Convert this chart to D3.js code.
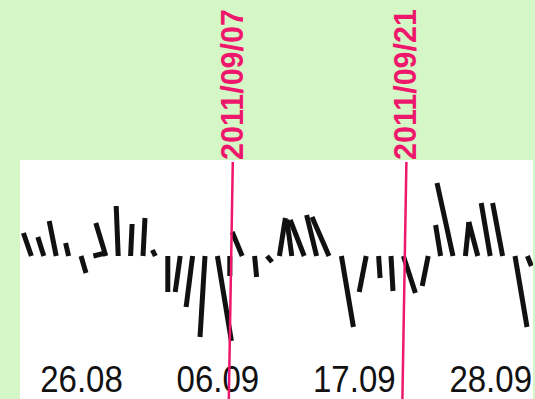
<!DOCTYPE html>
<html>
<head>
<meta charset="utf-8">
<script src="https://cdn.jsdelivr.net/npm/d3@7"></script>
<style>
  html, body { margin: 0; padding: 0; background: #d5f6c7; }
  svg { display: block; }
</style>
</head>
<body>
<script>
// ---- data ----
const days = ["2011-08-22","2011-08-23","2011-08-24","2011-08-25","2011-08-26","2011-08-27","2011-08-28","2011-08-29","2011-08-30","2011-08-31",
              "2011-09-01","2011-09-02","2011-09-03","2011-09-04","2011-09-05","2011-09-06","2011-09-07","2011-09-08","2011-09-09","2011-09-10",
              "2011-09-11","2011-09-12","2011-09-13","2011-09-14","2011-09-15","2011-09-16","2011-09-17","2011-09-18","2011-09-19","2011-09-20",
              "2011-09-21","2011-09-22","2011-09-23","2011-09-24","2011-09-25","2011-09-26","2011-09-27","2011-09-28","2011-09-29","2011-09-30","2011-10-01"];
// eastward component (u) and northward component (v)
const uValues = [-1.6,-1.2,-1.4,-0.6, 1.0, 2.4,-2.0,-0.4, 0.3, 0.4,
                 -0.6, 0.0,-1.0,-1.3,-1.0, 2.8, 0.0,-2.0, 0.4, 1.0,
                  1.2,-1.0,-2.8,-2.0,-3.4, 2.4, 0.0,-1.4, 0.3, 0.4,
                  2.4, 0.0,-1.2,-1.0,-3.2, 0.7,-1.8,-1.8,-2.0, 2.4, 0.8];
const vValues = [ 4.6, 3.8, 7.0, 2.6,-3.4, 0.6, 6.6,10.0, 6.4, 7.6,
                  1.2,-7.2,-7.2,-10.2,-16.2,-17.0,-4.0, 4.8,-4.2,-1.2,
                  7.6, 7.3, 7.2, 8.2, 7.8,-14.2, 0.0,-7.2,-4.4,-7.0,
                 -7.4, 0.0,-6.0, 6.2,14.6, 6.8, 6.8,10.6,10.6,-14.2,-2.0];
const tickDates = ["2011-08-26","2011-09-06","2011-09-17","2011-09-28"];
const markerDates = ["2011-09-07","2011-09-21"];
const markerLabels = ["2011/09/07","2011/09/21"];

// ---- layout ----
const W = 535, H = 399;
const plot = {x0: 20, x1: 533, y0: 160, y1: 399};
const parse = d3.timeParse("%Y-%m-%d");

const svg = d3.select("body").append("svg").attr("width", W).attr("height", H);
svg.append("rect").attr("width", W).attr("height", H).attr("fill", "#d5f6c7");
svg.append("rect").attr("x", plot.x0).attr("y", plot.y0)
   .attr("width", plot.x1 - plot.x0).attr("height", plot.y1 - plot.y0).attr("fill", "#ffffff");

const x = d3.scaleTime()
  .domain([parse("2011-08-26"), parse("2011-09-28")])
  .range([81, 490.2]);
// vector scale (px per m/s), zero line at y = 256
const y = d3.scaleLinear().domain([-20, 20]).range([356, 156]);
const k = y(0) - y(1);

svg.append("defs").append("clipPath").attr("id", "clip")
  .append("rect").attr("x", plot.x0).attr("y", plot.y0)
  .attr("width", plot.x1 - plot.x0).attr("height", plot.y1 - plot.y0);

const data = days.map((d, i) => ({t: parse(d), u: uValues[i], v: vValues[i]}))
  .filter(d => d.u !== 0 || d.v !== 0);

svg.append("g").attr("clip-path", "url(#clip)")
  .selectAll("line.stick").data(data).join("line")
  .attr("class", "stick")
  .attr("x1", d => x(d.t)).attr("y1", y(0))
  .attr("x2", d => x(d.t) + d.u * k).attr("y2", d => y(d.v))
  .attr("stroke", "#111").attr("stroke-width", 5).attr("stroke-linecap", "butt");

// axis labels
const axis = d3.axisBottom(x)
  .tickValues(tickDates.map(parse))
  .tickFormat(d3.timeFormat("%d.%m"))
  .tickSize(0);
const ax = svg.append("g").call(axis);
ax.select(".domain").remove();
ax.selectAll("text")
  .attr("y", 0).attr("dy", null)
  .attr("transform", "translate(0,392) scale(1,1.14)")
  .attr("fill", "#111")
  .style("font-family", "'Liberation Sans', Arial, sans-serif")
  .style("font-size", "33px");

// marker lines and labels
const markers = markerDates.map((d, i) => ({t: parse(d), label: markerLabels[i]}));
svg.selectAll("line.marker").data(markers).join("line")
  .attr("class", "marker")
  .attr("x1", d => x(d.t) + 3).attr("x2", d => x(d.t) - 1)
  .attr("y1", plot.y0 + 2).attr("y2", H)
  .attr("stroke", "#ee176c").attr("stroke-width", 2.5);
svg.selectAll("text.marker").data(markers).join("text")
  .attr("class", "marker")
  .attr("transform", d => `translate(${x(d.t) + 13},160) rotate(-90)`)
  .attr("fill", "#ee176c")
  .style("font-family", "'Liberation Sans', Arial, sans-serif")
  .style("font-weight", "bold")
  .style("font-size", "30.5px")
  .text(d => d.label);
</script>
</body>
</html>
